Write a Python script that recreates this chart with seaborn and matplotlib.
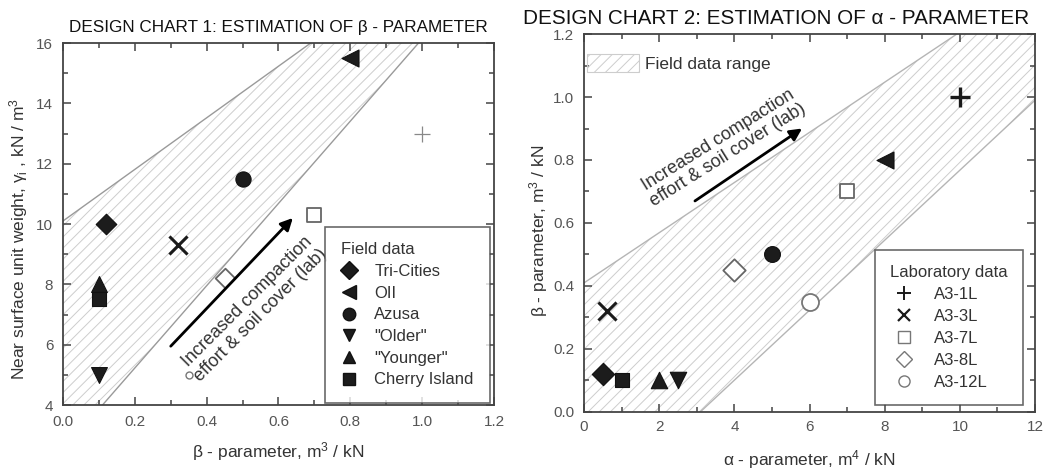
import numpy as np
import pandas as pd
import matplotlib
matplotlib.use("Agg")
import matplotlib.pyplot as plt
from matplotlib.patches import Polygon, Patch
from matplotlib.lines import Line2D
from matplotlib.ticker import MultipleLocator, FormatStrFormatter
import seaborn as sns

# ---------------- data ----------------
field_names = ["Tri-Cities", "OII", "Azusa", '"Older"', '"Younger"', "Cherry Island"]
field_beta = [0.12, 0.80, 0.50, 0.10, 0.10, 0.10]          # m3/kN
field_gamma = [10.0, 15.5, 11.5, 5.0, 8.0, 7.5]            # kN/m3
field_alpha = [0.5, 8.0, 5.0, 2.5, 2.0, 1.0]               # m4/kN

lab_names = ["A3-1L", "A3-3L", "A3-7L", "A3-8L", "A3-12L"]
lab_beta = [1.00, 0.32, 0.70, 0.45, 0.35]
lab_gamma = [13.0, 9.3, 10.3, 8.2, 5.0]
lab_alpha = [10.0, 0.6, 7.0, 4.0, 6.0]

# field data range band corners
band1_beta = [0.0, 0.0, 0.69, 0.99, 0.11]
band1_gamma = [4.0, 10.1, 16.0, 16.0, 4.0]
band2_alpha = [0.0, 0.0, 9.92, 12.0, 12.0, 3.09]
band2_beta = [0.0, 0.41, 1.2, 1.2, 0.99, 0.0]

# ---------------- style ----------------
sns.set_theme(style="ticks")
plt.rcParams["font.family"] = ["Liberation Sans", "DejaVu Sans"]
plt.rcParams["hatch.linewidth"] = 0.7
plt.rcParams["mathtext.fontset"] = "custom"
plt.rcParams["mathtext.rm"] = "Liberation Sans"
plt.rcParams["mathtext.it"] = "Liberation Sans:italic"

TXT = "#333333"
TICK = "#555555"
SP = "#444444"

field_markers = ["D", "<", "o", "v", "^", "s"]
field_sizes1 = [110, 150, 120, 130, 130, 90]

fig = plt.figure(figsize=(10.43, 4.71), dpi=100)
ax1 = fig.add_axes([0.0604, 0.1401, 0.4132, 0.7686])
ax2 = fig.add_axes([0.560, 0.1253, 0.4324, 0.8025])


def style_axes(ax):
    for s in ax.spines.values():
        s.set_color(SP)
        s.set_linewidth(1.3)
    ax.tick_params(which="both", direction="in", top=True, right=True,
                   colors=SP, labelcolor=TICK, labelsize=11, width=1.1, pad=7)
    ax.tick_params(which="major", length=6)
    ax.tick_params(which="minor", length=3.5)


def band(ax, xs, ys):
    poly = Polygon(np.column_stack([xs, ys]), closed=True, facecolor="none",
                   edgecolor="#cdcdcd", hatch="///", linewidth=0, zorder=0)
    ax.add_patch(poly)


# ---------------- chart 1 ----------------
band(ax1, band1_beta, band1_gamma)
sns.lineplot(x=band1_beta[1:3], y=band1_gamma[1:3], ax=ax1, color="#9a9a9a", lw=1.0, zorder=1)
sns.lineplot(x=band1_beta[3:5], y=band1_gamma[3:5], ax=ax1, color="#9a9a9a", lw=1.0, zorder=1)

for i, name in enumerate(field_names):
    sns.scatterplot(x=[field_beta[i]], y=[field_gamma[i]], ax=ax1, marker=field_markers[i],
                    s=field_sizes1[i], color="#1c1c1c", edgecolor="#111111", linewidth=0.8,
                    zorder=3)

lab1_style = [
    dict(marker="+", s=140, color="#888888", linewidth=0.9),
    dict(marker="x", s=170, color="#1a1a1a", linewidth=2.2),
    dict(marker="s", s=110, facecolor="white", edgecolor="#666666", linewidth=1.3),
    dict(marker="D", s=100, facecolor="white", edgecolor="#666666", linewidth=1.3),
    dict(marker="o", s=25, facecolor="white", edgecolor="#777777", linewidth=1.0),
]
for i, name in enumerate(lab_names):
    sns.scatterplot(x=[lab_beta[i]], y=[lab_gamma[i]], ax=ax1, zorder=3, **lab1_style[i])

ax1.annotate("", xy=(0.64, 10.2), xytext=(0.30, 5.95),
             arrowprops=dict(arrowstyle="-|>", color="black", lw=2.0, mutation_scale=18,
                             shrinkA=0, shrinkB=0), zorder=4)
ax1.text(0.532, 7.2, "Increased compaction\neffort & soil cover (lab)", rotation=45,
         ha="center", va="center", fontsize=13, color=TXT, rotation_mode="anchor",
         linespacing=1.1)

ax1.set_xlim(0, 1.2)
ax1.set_ylim(4, 16)
ax1.xaxis.set_major_locator(MultipleLocator(0.2))
ax1.xaxis.set_minor_locator(MultipleLocator(0.1))
ax1.yaxis.set_major_locator(MultipleLocator(2))
ax1.yaxis.set_minor_locator(MultipleLocator(1))
ax1.xaxis.set_major_formatter(FormatStrFormatter("%.1f"))
style_axes(ax1)
ax1.set_xlabel(r"β - parameter, m$^3$ / kN", fontsize=12.5, color=TXT, labelpad=8)
ax1.set_ylabel(r"Near surface unit weight, γ$_\mathrm{i}$ , kN / m$^3$", fontsize=12.5,
               color=TXT, labelpad=4.5, y=0.459, ha="center")
ax1.set_title("DESIGN CHART 1: ESTIMATION OF β - PARAMETER", fontsize=12.3, color="#111111",
              pad=8)

h1 = [Line2D([], [], linestyle="none", marker=m, markersize=9 if m != "<" else 10,
             markerfacecolor="#1c1c1c", markeredgecolor="#111111")
      for m in field_markers]
leg1 = ax1.legend(h1, field_names, title="Field data", loc="lower right",
                  bbox_to_anchor=(0.99, 0.005), borderaxespad=0, fontsize=12,
                  title_fontsize=12, frameon=True, fancybox=False, edgecolor=SP,
                  borderpad=0.95, labelspacing=0.4, handletextpad=1.0, handlelength=1.0,
                  alignment="left")
leg1.get_frame().set_linewidth(1.2)
for t in leg1.get_texts():
    t.set_color(TXT)
leg1.get_title().set_color(TXT)

# ---------------- chart 2 ----------------
band(ax2, band2_alpha, band2_beta)
sns.lineplot(x=band2_alpha[1:3], y=band2_beta[1:3], ax=ax2, color="#b5b5b5", lw=1.0, zorder=1)
sns.lineplot(x=band2_alpha[4:6], y=band2_beta[4:6], ax=ax2, color="#b5b5b5", lw=1.0, zorder=1)

field_sizes2 = [130, 150, 130, 140, 140, 110]
for i, name in enumerate(field_names):
    sns.scatterplot(x=[field_alpha[i]], y=[field_beta[i]], ax=ax2, marker=field_markers[i],
                    s=field_sizes2[i], color="#1c1c1c", edgecolor="#111111", linewidth=0.8,
                    zorder=3)

lab2_style = [
    dict(marker="+", s=190, color="#1a1a1a", linewidth=2.4),
    dict(marker="x", s=170, color="#1a1a1a", linewidth=2.2),
    dict(marker="s", s=110, facecolor="white", edgecolor="#666666", linewidth=1.3),
    dict(marker="D", s=130, facecolor="white", edgecolor="#666666", linewidth=1.3),
    dict(marker="o", s=150, facecolor="white", edgecolor="#777777", linewidth=1.3),
]
for i, name in enumerate(lab_names):
    sns.scatterplot(x=[lab_alpha[i]], y=[lab_beta[i]], ax=ax2, zorder=3, **lab2_style[i])

ax2.annotate("", xy=(5.8, 0.90), xytext=(2.95, 0.67),
             arrowprops=dict(arrowstyle="-|>", color="black", lw=2.0, mutation_scale=18,
                             shrinkA=0, shrinkB=0), zorder=4)
ax2.text(3.70, 0.84, "Increased compaction\neffort & soil cover (lab)", rotation=32,
         ha="center", va="center", fontsize=13, color=TXT, rotation_mode="anchor",
         linespacing=1.1)

ax2.set_xlim(0, 12)
ax2.set_ylim(0, 1.2)
ax2.xaxis.set_major_locator(MultipleLocator(2))
ax2.xaxis.set_minor_locator(MultipleLocator(1))
ax2.yaxis.set_major_locator(MultipleLocator(0.2))
ax2.yaxis.set_minor_locator(MultipleLocator(0.1))
ax2.yaxis.set_major_formatter(FormatStrFormatter("%.1f"))
style_axes(ax2)
ax2.tick_params(axis="x", pad=6)
ax2.set_xlabel(r"α - parameter, m$^4$ / kN", fontsize=12.5, color=TXT, labelpad=10)
ax2.set_ylabel(r"β - parameter, m$^3$ / kN", fontsize=12.5, color=TXT, labelpad=2.5,
               y=0.48, ha="center")
ax2.set_title("DESIGN CHART 2: ESTIMATION OF α - PARAMETER", fontsize=14.9, color="#111111",
              pad=7, x=0.425)

lab_leg_style = [
    dict(marker="+", markersize=10, markeredgewidth=1.4, color="#1a1a1a"),
    dict(marker="x", markersize=9, markeredgewidth=1.6, color="#1a1a1a"),
    dict(marker="s", markersize=8, markerfacecolor="white", markeredgecolor="#777777"),
    dict(marker="D", markersize=8, markerfacecolor="white", markeredgecolor="#777777"),
    dict(marker="o", markersize=8, markerfacecolor="white", markeredgecolor="#777777"),
]
h2 = [Line2D([], [], linestyle="none", **st) for st in lab_leg_style]
leg2 = ax2.legend(h2, lab_names, title="Laboratory data", loc="lower right",
                  bbox_to_anchor=(0.973, 0.0185), borderaxespad=0, fontsize=12,
                  title_fontsize=12, frameon=True, fancybox=False, edgecolor=SP,
                  borderpad=0.9, labelspacing=0.42, handletextpad=1.05, handlelength=1.6,
                  alignment="left")
leg2.get_frame().set_linewidth(1.2)
for t in leg2.get_texts():
    t.set_color(TXT)
leg2.get_title().set_color(TXT)
ax2.add_artist(leg2)

hp = Patch(facecolor="none", edgecolor="#cdcdcd", hatch="///", linewidth=0.8)
leg3 = ax2.legend([hp], ["Field data range"], loc="upper left", bbox_to_anchor=(-0.002, 0.957),
                  borderaxespad=0, borderpad=0.2, fontsize=12.5, frameon=False,
                  handlelength=3.0, handleheight=1.25, handletextpad=0.35)
for t in leg3.get_texts():
    t.set_color(TXT)

fig.savefig("out.png", dpi=100)
